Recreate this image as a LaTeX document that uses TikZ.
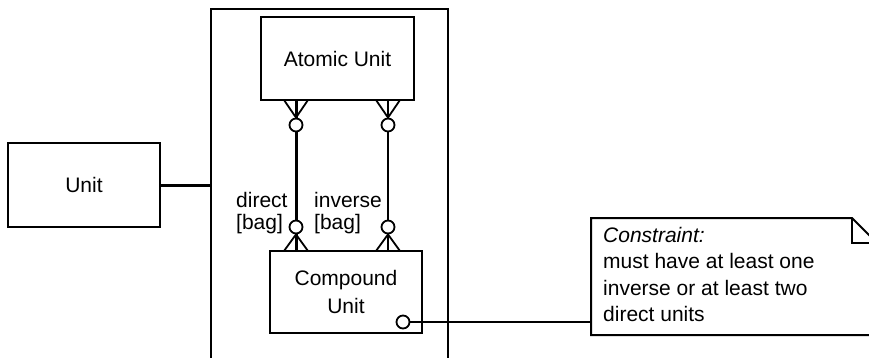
\documentclass[tikz,border=0pt]{standalone}
\usepackage{fontspec}
\setmainfont{Liberation Sans}
\begin{document}
\begin{tikzpicture}[x=1pt,y=-1pt,
  font=\fontsize{21}{26}\selectfont,
  box/.style={draw, line width=2pt, inner sep=0pt, align=center},
  ring/.style={draw, circle, line width=1.8pt, minimum size=13pt, inner sep=0pt, fill=white},
  thickln/.style={line width=3pt},
  thinln/.style={line width=1.8pt},
  lbl/.style={anchor=base west, inner sep=0pt}]
\useasboundingbox (0,0) rectangle (869,358);
% boxes
\node[box, minimum width=152pt, minimum height=84pt] (unit) at (84,185) {Unit};
\node[box, minimum width=153pt, minimum height=83pt] (atomic) at (337.5,58.5) {Atomic Unit};
\node[box, minimum width=152pt, minimum height=82pt, font=\fontsize{21}{28}\selectfont] (compound) at (346,292) {Compound\\Unit};
% big enclosing frame (open at bottom)
\coordinate (bigbl) at (211,365);
\coordinate (bigtl) at (211,9);
\coordinate (bigtr) at (448,9);
\coordinate (bigbr) at (448,365);
\draw[line width=2pt] (bigbl) -- (bigtl) -- (bigtr) -- (bigbr);
\draw[line width=2.8pt] (bigbl) -- (bigtl);
\draw[thickln] (unit.east) -- (unit.east -| bigtl);
% left association (direct)
\coordinate (la) at (296,100);
\coordinate (lal) at (284,100);
\coordinate (lar) at (308,100);
\coordinate (lb) at (296,251);
\coordinate (lbl) at (284,251);
\coordinate (lbr) at (308,251);
\node[ring] (lc1) at (296,125) {};
\node[ring] (lc2) at (296,227) {};
\draw[thinln] (lal) -- (lc1.north) -- (lar);
\draw[thickln] (la) -- (lc1.north);
\draw[thickln] (lc1.south) -- (lc2.north);
\draw[thinln] (lbl) -- (lc2.south) -- (lbr);
\draw[thickln] (lc2.south) -- (lb);
% right association (inverse)
\coordinate (ra) at (388,100);
\coordinate (ral) at (376,100);
\coordinate (rar) at (400,100);
\coordinate (rb) at (388,251);
\coordinate (rbl) at (376,251);
\coordinate (rbr) at (400,251);
\node[ring] (rc1) at (388,125) {};
\node[ring] (rc2) at (388,227) {};
\draw[thinln] (ral) -- (rc1.north) -- (rar);
\draw[thinln] (ra) -- (rc1.north);
\draw[thinln] (rc1.south) -- (rc2.north);
\draw[thinln] (rbl) -- (rc2.south) -- (rbr);
\draw[thinln] (rc2.south) -- (rb);
% labels
\node[lbl] (ldir) at (236,207) {direct};
\node[lbl] (ldirbag) at (236,229) {[bag]};
\node[lbl] (linv) at (314,207) {inverse};
\node[lbl] (linvbag) at (314,229) {[bag]};
% note
\coordinate (n1) at (591,218);
\coordinate (n2) at (852,218);
\coordinate (n3) at (877,243);
\coordinate (n4) at (877,335);
\coordinate (n5) at (591,335);
\coordinate (nf) at (852,243);
\draw[line width=2pt] (n1) -- (n2) -- (n3) -- (n4) -- (n5) -- cycle;
\draw[line width=2pt] (n2) -- (nf) -- (n3);
\node[anchor=north west, inner sep=0pt, align=left, font=\fontsize{21}{26.5}\selectfont] (notetext) at (603,227)
  {\textit{Constraint:}\\must have at least one\\inverse or at least two\\direct units};
% constraint connector
\node[ring] (cc) at (403,322) {};
\coordinate (nl) at (591,322);
\draw[line width=2.4pt] (cc.east) -- (nl);
\end{tikzpicture}
\end{document}
